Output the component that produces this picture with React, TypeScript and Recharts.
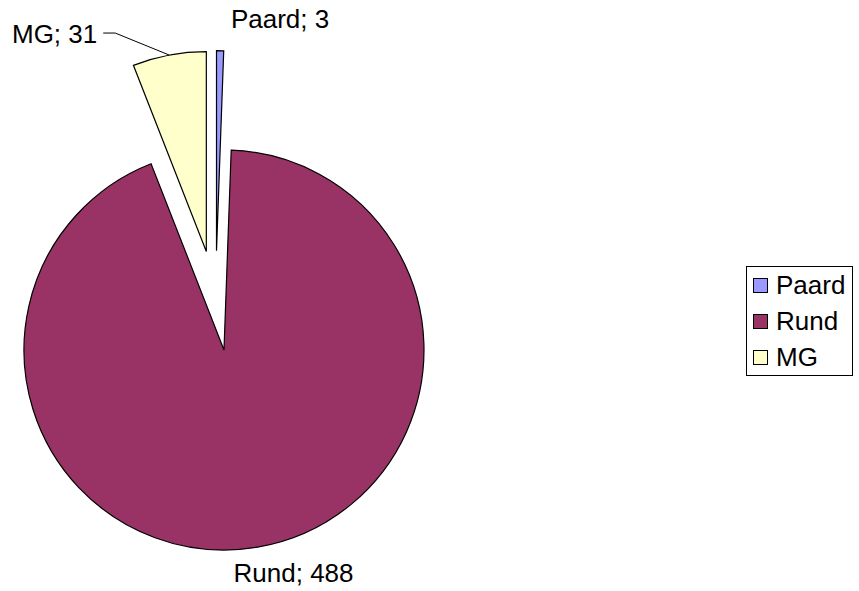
import { PieChart, Pie, Cell, Legend } from 'recharts';

const categories = ['Paard', 'Rund', 'MG'];
const values = [3, 488, 31];
const colors = ['#9999FF', '#993366', '#FFFFCC'];

const data = categories.map((name, i) => ({ name, value: values[i] }));
const total = values.reduce((s, v) => s + v, 0);

// unexploded pie centre, radius and how far every slice is pulled out
const CX = 215.6;
const CY = 300.7;
const R = 200;
const EXPLODE = 50;
const FONT = '"Liberation Sans", Arial, sans-serif';

// mid angle of each slice, clockwise from 12 o'clock
const midAngles = values.map((v, i) => {
  const before = values.slice(0, i).reduce((s, x) => s + x, 0);
  return ((before + v / 2) / total) * 360;
});

// label placement relative to the outer edge of the slice
const labelPos: Record<string, { dx: number; dy: number; anchor: string; leader?: boolean }> = {
  Paard: { dx: 60, dy: -32, anchor: 'middle' },
  Rund: { dx: 36, dy: 26, anchor: 'middle' },
  MG: { dx: -72, dy: -21, anchor: 'end', leader: true },
};

const makeLabel = (idx: number) => (props: any) => {
  if (props.index !== idx) return null;
  const rad = Math.PI / 180;
  const ox = props.cx + props.outerRadius * Math.cos(-props.midAngle * rad);
  const oy = props.cy + props.outerRadius * Math.sin(-props.midAngle * rad);
  const p = labelPos[props.name];
  return (
    <g>
      {p.leader && (
        <polyline
          points={`${ox},${oy} ${ox - 54},${oy - 22} ${ox - 66},${oy - 22}`}
          fill="none"
          stroke="#000"
          strokeWidth={1}
        />
      )}
      <text
        x={ox + p.dx}
        y={oy + p.dy}
        textAnchor={p.anchor as any}
        dominantBaseline="central"
        fill="#000"
        fontSize={26}
        fontFamily={FONT}
      >
        {`${props.name}; ${props.value}`}
      </text>
    </g>
  );
};

const renderLegend = () => (
  <div
    style={{
      border: '1px solid #000',
      background: '#fff',
      width: 99,
      padding: '0 0 0 6px',
      fontFamily: FONT,
      fontSize: 26,
      lineHeight: '36px',
    }}
  >
    {categories.map((c, i) => (
      <div key={c} style={{ display: 'flex', alignItems: 'center' }}>
        <span
          style={{
            display: 'inline-block',
            width: 13,
            height: 13,
            border: '1px solid #000',
            background: colors[i],
            marginRight: 8,
          }}
        />
        <span>{c}</span>
      </div>
    ))}
  </div>
);

export default function App() {
  return (
    <div style={{ width: 859, height: 591, background: '#fff' }}>
      <style>{'body{margin:0}'}</style>
      <PieChart width={859} height={591} margin={{ top: 0, right: 0, bottom: 0, left: 0 }}>
        {categories.map((c, i) => {
          const a = (midAngles[i] * Math.PI) / 180;
          return (
            <Pie
              key={c}
              data={data}
              dataKey="value"
              nameKey="name"
              cx={CX + EXPLODE * Math.sin(a)}
              cy={CY - EXPLODE * Math.cos(a)}
              outerRadius={R}
              startAngle={90}
              endAngle={-270}
              stroke="none"
              isAnimationActive={false}
              labelLine={false}
              label={makeLabel(i)}
            >
              {data.map((d, j) => (
                <Cell
                  key={d.name}
                  fill={j === i ? colors[j] : 'none'}
                  stroke={j === i ? '#000' : 'none'}
                  strokeWidth={1.2}
                />
              ))}
            </Pie>
          );
        })}
        <Legend
          content={renderLegend}
          wrapperStyle={{ position: 'absolute', left: 746, top: 266, width: 'auto' }}
        />
      </PieChart>
    </div>
  );
}
